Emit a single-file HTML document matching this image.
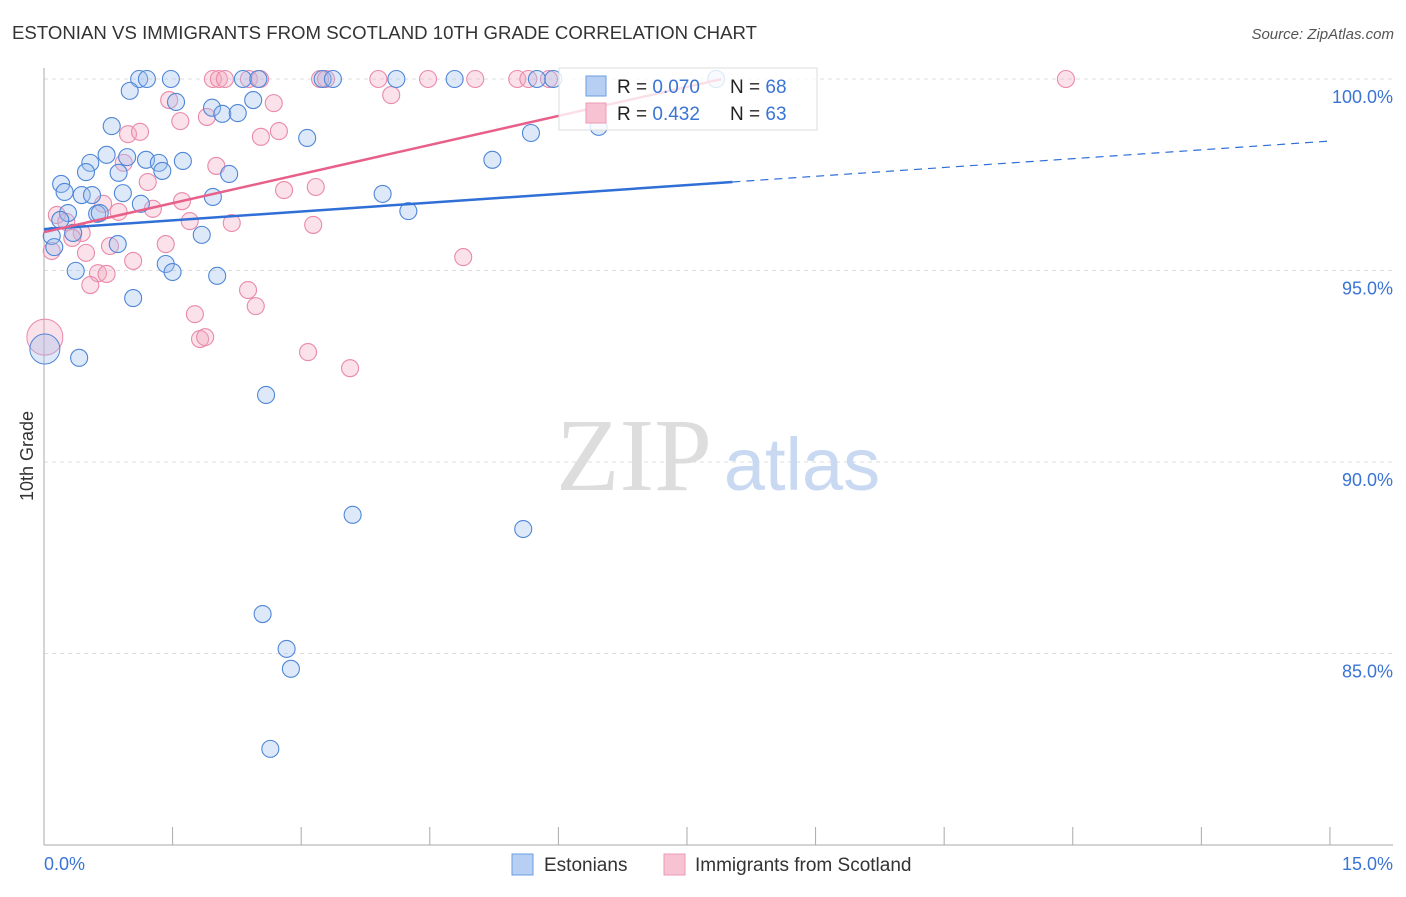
<!DOCTYPE html>
<html><head><meta charset="utf-8"><style>
body{margin:0;background:#fff;font-family:"Liberation Sans",sans-serif}
</style></head><body>
<svg id="chart" width="1406" height="892" xmlns="http://www.w3.org/2000/svg">
<text x="12" y="39" font-size="18.6" fill="#333" textLength="745">ESTONIAN VS IMMIGRANTS FROM SCOTLAND 10TH GRADE CORRELATION CHART</text>
<text x="1394" y="39" font-size="15" fill="#555" text-anchor="end" font-style="italic">Source: ZipAtlas.com</text>
<text transform="translate(33,456) rotate(-90)" font-size="18" fill="#333" text-anchor="middle">10th Grade</text>
<g id="grid"></g>
<g id="watermark">
<text x="634" y="490" font-size="104" font-family="Liberation Serif,serif" fill="#ddd" text-anchor="middle">ZIP</text>
<text x="802" y="490" font-size="74" fill="#c9d9f2" text-anchor="middle">atlas</text>
</g>
<g id="axes"></g>
<g id="pts"></g>
<g id="lines"></g>
<g>
<rect x="559" y="68" width="258" height="62" fill="#fff" fill-opacity="0.8" stroke="#ddd"/>
<rect x="586" y="76" width="20" height="20" fill="#b7cff3" stroke="#6a9de0"/>
<rect x="586" y="103" width="20" height="20" fill="#f7c3d3" stroke="#ec9ab5"/>
<text x="617" y="93" font-size="19" fill="#222">R = <tspan fill="#3a74d4">0.070</tspan></text>
<text x="730" y="93" font-size="19" fill="#222">N = <tspan fill="#3a74d4">68</tspan></text>
<text x="617" y="120" font-size="19" fill="#222">R = <tspan fill="#3a74d4"> 0.432</tspan></text>
<text x="730" y="120" font-size="19" fill="#222">N = <tspan fill="#3a74d4">63</tspan></text>
</g>
<g>
<rect x="512" y="854" width="21" height="21" fill="#b7cff3" stroke="#6a9de0"/>
<text x="544" y="871" font-size="19" fill="#333">Estonians</text>
<rect x="664" y="854" width="21" height="21" fill="#f7c3d3" stroke="#ec9ab5"/>
<text x="695" y="871" font-size="19" fill="#333">Immigrants from Scotland</text>
</g>
</svg>
<script>
const yTicks=[100,95,90,85];
const yTickLabels=["100.0%","95.0%","90.0%","85.0%"];
const xTickCount=10;
const blueX=[1.11,1.2,1.48,2.32,2.5,3.25,3.37,4.11,4.79,5.75,5.94,7.84,1.0,1.54,2.44,1.96,2.08,2.26,0.79,3.07,5.68,6.47,0.73,0.97,1.19,1.62,1.34,0.54,0.49,0.87,1.38,2.16,0.2,0.24,0.44,0.56,0.92,1.97,3.95,5.23,1.13,0.62,0.28,4.25,0.19,0.34,1.84,0.09,0.86,0.12,0.37,1.42,1.5,2.02,1.04,0.41,2.59,3.6,5.59,2.55,2.83,2.88,2.64,0.65];
const blueY=[100,100,100,100,100,100,100,100,100,100,100,100,99.69,99.4,99.45,99.25,99.09,99.11,98.77,98.46,98.59,98.75,98.02,97.96,97.89,97.86,97.81,97.81,97.57,97.55,97.6,97.52,97.26,97.05,96.97,96.97,97.02,96.92,97.0,97.89,96.74,96.48,96.5,96.55,96.32,95.98,95.93,95.9,95.69,95.61,94.99,95.17,94.96,94.86,94.28,92.72,91.75,88.62,88.25,86.03,85.12,84.6,82.51,96.5];
const pinkX=[1.97,2.04,2.11,2.39,2.52,3.22,3.29,3.9,4.48,5.03,5.52,5.65,5.89,11.92,4.05,1.46,2.68,1.9,1.59,0.98,1.12,2.53,2.74,0.93,2.01,1.21,2.8,3.17,1.61,0.69,1.27,0.87,0.15,0.26,2.19,1.7,3.14,0.44,0.33,0.77,1.42,0.09,0.49,1.04,4.89,0.63,0.73,0.54,2.38,2.47,1.76,1.82,1.88,3.08,3.57];
const pinkY=[100,100,100,100,100,100,100,100,100,100,100,100,100,100,99.58,99.45,99.37,99.01,98.9,98.56,98.62,98.49,98.64,97.81,97.73,97.31,97.1,97.18,96.81,96.74,96.61,96.53,96.45,96.27,96.24,96.29,96.19,95.98,95.85,95.64,95.69,95.51,95.46,95.25,95.35,94.93,94.91,94.62,94.49,94.07,93.86,93.21,93.26,92.87,92.45];
const bigBlue=[0.01,92.95];
const bigPink=[0.01,93.26];
const blueTrend=[96.08,98.38];
const pinkTrend=[96.0,0.506];
const NS="http://www.w3.org/2000/svg";
const sx=v=>44+v*85.73, sy=v=>79+(100-v)*38.3;
function mk(tag,attrs,parent){const e=document.createElementNS(NS,tag);for(const k in attrs)e.setAttribute(k,attrs[k]);parent.appendChild(e);return e;}
const grid=document.getElementById('grid'),axes=document.getElementById('axes'),pts=document.getElementById('pts'),lines=document.getElementById('lines');
yTicks.forEach((t,i)=>{
 const l=mk('line',{x1:44,x2:1393,y1:sy(t),y2:sy(t),stroke:'#ddd','stroke-dasharray':'4,4'},grid);
 
 
 const tx=mk('text',{x:1393,y:sy(t)+24,'font-size':18,fill:'#3a74d4','text-anchor':'end'},axes);
 tx.textContent=yTickLabels[i];
 
 
});
mk('line',{x1:44,x2:44,y1:68,y2:845,stroke:'#aaa'},axes);
mk('line',{x1:44,x2:1393,y1:845,y2:845,stroke:'#aaa'},axes);
for(let i=0;i<=xTickCount;i++){const x=sx(i*1.5);const t=mk('line',{x1:x,x2:x,y1:827,y2:845,stroke:'#aaa'},axes);
 
 }
let t0=mk('text',{x:44,y:870,'font-size':18,fill:'#3a74d4'},axes);t0.textContent='0.0%';


let t1=mk('text',{x:1393,y:870,'font-size':18,fill:'#3a74d4','text-anchor':'end'},axes);t1.textContent='15.0%';


function dots(xs,ys,fill,stroke,name){xs.forEach((x,i)=>{const c=mk('circle',{cx:sx(x),cy:sy(ys[i]),r:8.5,fill:fill,'fill-opacity':0.35,stroke:stroke,'stroke-width':1.1},pts);
 
 });}
dots(pinkX,pinkY,'#f4a9c0','#e98aaa','scotland-point');
dots(blueX,blueY,'#9ec0ef','#4f86d8','estonian-point');
let b1=mk('circle',{cx:sx(bigPink[0]),cy:sy(bigPink[1]),r:18,fill:'#f4a9c0','fill-opacity':0.35,stroke:'#e98aaa'},pts);


let b2=mk('circle',{cx:sx(bigBlue[0]),cy:sy(bigBlue[1]),r:15,fill:'#9ec0ef','fill-opacity':0.35,stroke:'#4f86d8'},pts);


const bAt=x=>blueTrend[0]+(blueTrend[1]-blueTrend[0])*x/15;
let bl=mk('line',{x1:sx(0),y1:sy(bAt(0)),x2:sx(8.03),y2:sy(bAt(8.03)),stroke:'#2f6fd6','stroke-width':2.5},lines);


let bd=mk('line',{x1:sx(8.03),y1:sy(bAt(8.03)),x2:sx(15),y2:sy(bAt(15)),stroke:'#2f6fd6','stroke-width':1.2,'stroke-dasharray':'8,6'},lines);


const pAt=x=>pinkTrend[0]+pinkTrend[1]*x;
let pl=mk('line',{x1:sx(0),y1:sy(pAt(0)),x2:sx(7.9),y2:sy(pAt(7.9)),stroke:'#e8608a','stroke-width':2.5},lines);


</script>
</body></html>
